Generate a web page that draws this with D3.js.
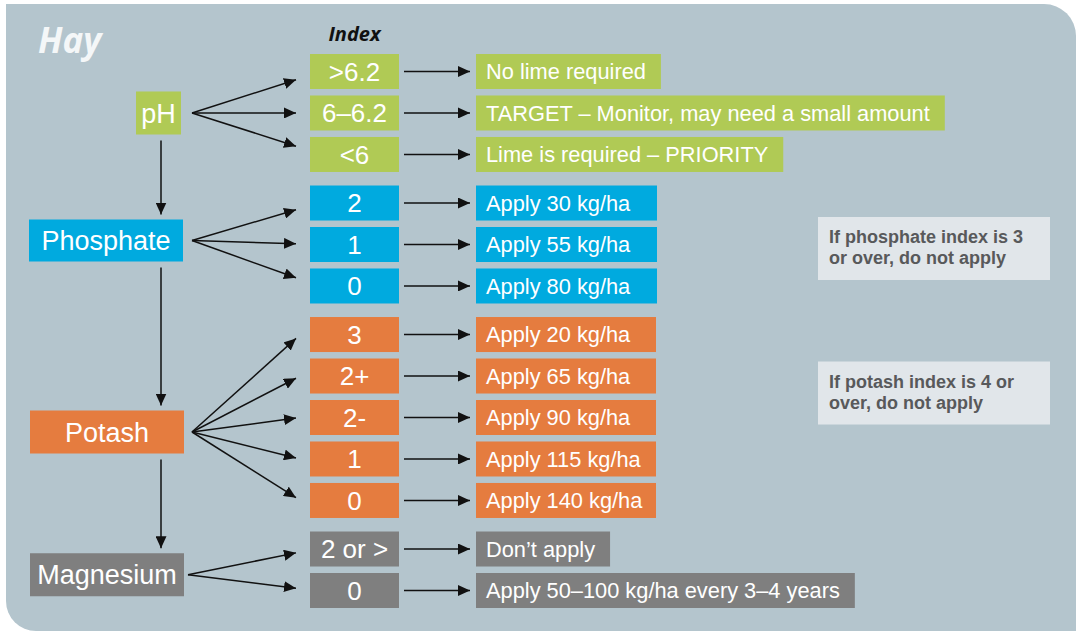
<!DOCTYPE html>
<html>
<head>
<meta charset="utf-8">
<script src="https://cdn.jsdelivr.net/npm/d3@7"></script>
<style>
  html, body { margin: 0; padding: 0; background: #ffffff; }
  svg { display: block; }
</style>
</head>
<body>
<svg id="chart" width="1077" height="631"></svg>
<script>
// ---------------- DATA ----------------
const title = "Hay";
const indexHeader = "Index";
const groups = ["pH", "Phosphate", "Potash", "Magnesium"];
const phIndex = [">6.2", "6–6.2", "<6"];
const phosphateIndex = ["2", "1", "0"];
const potashIndex = ["3", "2+", "2-", "1", "0"];
const magnesiumIndex = ["2 or >", "0"];
const phAdvice = ["No lime required", "TARGET – Monitor, may need a small amount", "Lime is required – PRIORITY"];
const phosphateAdvice = ["Apply 30 kg/ha", "Apply 55 kg/ha", "Apply 80 kg/ha"];
const potashAdvice = ["Apply 20 kg/ha", "Apply 65 kg/ha", "Apply 90 kg/ha", "Apply 115 kg/ha", "Apply 140 kg/ha"];
const magnesiumAdvice = ["Don’t apply", "Apply 50–100 kg/ha every 3–4 years"];
const phosphateNote = ["If phosphate index is 3", "or over, do not apply"];
const potashNote = ["If potash index is 4 or", "over, do not apply"];

const indexLists = [phIndex, phosphateIndex, potashIndex, magnesiumIndex];
const adviceLists = [phAdvice, phosphateAdvice, potashAdvice, magnesiumAdvice];

// ---------------- STYLE / LAYOUT ----------------
const groupColors = ["#b0ca55", "#00aadf", "#e57c3f", "#7f7f7f"];
const bg = "#b4c5cd";
const noteFill = "#e1e6ea";
const noteText = "#58595b";
const font = "'Liberation Sans', Arial, Helvetica, sans-serif";
const rowH = 35;
const groupGap = 0.17;           // extra slot units between groups
const idxX = 310, idxW = 89;
const advX = 476;
const advFont = 21.8;
const catFont = 27;
const idxFont = 26;
const catLayout = [
  {x: 136, w: 45, h: 43, dy: 0,    ox: 192, spread: 0.80},
  {x: 29,  w: 154, h: 42, dy: -4,  ox: 192, spread: 0.82},
  {x: 30,  w: 154, h: 43, dy: 14.5, ox: 192, spread: 0.96},
  {x: 30,  w: 154, h: 43, dy: 5,   ox: 188, spread: 0.85}
];
const uniformWidth = [null, 181, 180, null];
const notesLayout = [
  {group: 1, row: 1, dy: -10, lines: phosphateNote},
  {group: 2, row: 1, dy: 3, lines: potashNote}
];

// ---------------- BUILD ROWS ----------------
const rows = [];
let gi = 0;
indexLists.forEach((list, g) => {
  list.forEach((lab, r) => {
    rows.push({group: g, row: r, label: lab, advice: adviceLists[g][r], slot: gi + g * groupGap});
    gi++;
  });
});
const maxSlot = d3.max(rows, d => d.slot);
const y = d3.scaleLinear().domain([0, maxSlot]).range([54, 573]);

const svg = d3.select("#chart");

// arrow marker
const defs = svg.append("defs");
defs.append("marker")
  .attr("id", "arr")
  .attr("viewBox", "0 0 12 11")
  .attr("refX", 12).attr("refY", 5.5)
  .attr("markerWidth", 12).attr("markerHeight", 11)
  .attr("markerUnits", "userSpaceOnUse")
  .attr("orient", "auto")
  .append("path").attr("d", "M0,0 L12,5.5 L0,11 Z").attr("fill", "#111");

// panel
svg.append("path")
  .attr("d", "M6,4 H1044 A32,32 0 0 1 1076,36 V631 H36 A30,30 0 0 1 6,601 Z")
  .attr("fill", bg);

// title
svg.append("text").attr("x", 38).attr("y", 53)
  .attr("font-family", "'Open Sans', sans-serif").attr("font-style", "italic")
  .attr("font-weight", 700).attr("font-size", 35).attr("fill", "#f4f7f8")
  .text(title);

svg.append("text").attr("x", idxX + idxW / 2).attr("y", 41)
  .attr("text-anchor", "middle")
  .attr("font-family", "'Open Sans', sans-serif").attr("font-style", "italic")
  .attr("font-weight", 700).attr("font-size", 20).attr("fill", "#111")
  .text(indexHeader);

// category geometry
const cats = groups.map((name, g) => {
  const gr = rows.filter(d => d.group === g);
  const mid = (y(gr[0].slot) + y(gr[gr.length - 1].slot) + rowH) / 2;
  const L = catLayout[g];
  const cy = mid + L.dy;
  return {name, g, x: L.x, w: L.w, h: L.h, cy, top: cy - L.h / 2, bottom: cy + L.h / 2, ox: L.ox, spread: L.spread};
});

// vertical arrows between categories
const vx = 161;
for (let i = 0; i < cats.length - 1; i++) {
  svg.append("line")
    .attr("x1", vx).attr("x2", vx)
    .attr("y1", cats[i].bottom + 6).attr("y2", cats[i + 1].top - 5)
    .attr("stroke", "#111").attr("stroke-width", 1.5)
    .attr("marker-end", "url(#arr)");
}

// category boxes
const cg = svg.selectAll("g.cat").data(cats).enter().append("g");
cg.append("rect")
  .attr("x", d => d.x).attr("y", d => d.top).attr("width", d => d.w).attr("height", d => d.h)
  .attr("fill", d => groupColors[d.g]);
cg.append("text")
  .attr("x", d => d.x + d.w / 2).attr("y", d => d.cy + 0.36 * catFont)
  .attr("text-anchor", "middle").attr("font-family", font).attr("font-size", catFont)
  .attr("fill", "#fff").text(d => d.name);

// fan arrows
rows.forEach(d => {
  const c = cats[d.group];
  const rc = y(d.slot) + rowH / 2;
  const tipX = 296;
  const tipY = c.cy + (rc - c.cy) * c.spread;
  svg.append("line")
    .attr("x1", c.ox).attr("y1", c.cy).attr("x2", tipX).attr("y2", tipY)
    .attr("stroke", "#111").attr("stroke-width", 1.5)
    .attr("marker-end", "url(#arr)");
});

// index boxes
const ig = svg.selectAll("g.idx").data(rows).enter().append("g");
ig.append("rect")
  .attr("x", idxX).attr("y", d => y(d.slot)).attr("width", idxW).attr("height", rowH)
  .attr("fill", d => groupColors[d.group]);
ig.append("text")
  .attr("x", idxX + idxW / 2).attr("y", d => y(d.slot) + rowH / 2 + 0.36 * idxFont)
  .attr("text-anchor", "middle").attr("font-family", font).attr("font-size", idxFont)
  .attr("fill", "#fff").text(d => d.label);

// horizontal arrows
rows.forEach(d => {
  const rc = y(d.slot) + rowH / 2;
  svg.append("line")
    .attr("x1", 404).attr("x2", 470).attr("y1", rc).attr("y2", rc)
    .attr("stroke", "#111").attr("stroke-width", 1.5)
    .attr("marker-end", "url(#arr)");
});

// advice boxes
const ag = svg.selectAll("g.adv").data(rows).enter().append("g");
const aRect = ag.append("rect")
  .attr("x", advX).attr("y", d => y(d.slot)).attr("height", rowH)
  .attr("fill", d => groupColors[d.group]);
const aText = ag.append("text")
  .attr("x", advX + 10).attr("y", d => y(d.slot) + rowH / 2 + 0.36 * advFont)
  .attr("font-family", font).attr("font-size", advFont)
  .attr("fill", "#fff").text(d => d.advice);
aText.each(function(d) { d.tw = this.getComputedTextLength(); });
aRect.attr("width", d => uniformWidth[d.group] ? uniformWidth[d.group] : d.tw + 25);

// notes
notesLayout.forEach(n => {
  const r = rows.find(d => d.group === n.group && d.row === n.row);
  const top = y(r.slot) + n.dy;
  svg.append("rect").attr("x", 818).attr("y", top).attr("width", 232).attr("height", 63)
    .attr("fill", noteFill);
  n.lines.forEach((ln, i) => {
    svg.append("text").attr("x", 829).attr("y", top + 26 + i * 21)
      .attr("font-family", font).attr("font-weight", 700).attr("font-size", 18)
      .attr("fill", noteText).text(ln);
  });
});
</script>
</body>
</html>
